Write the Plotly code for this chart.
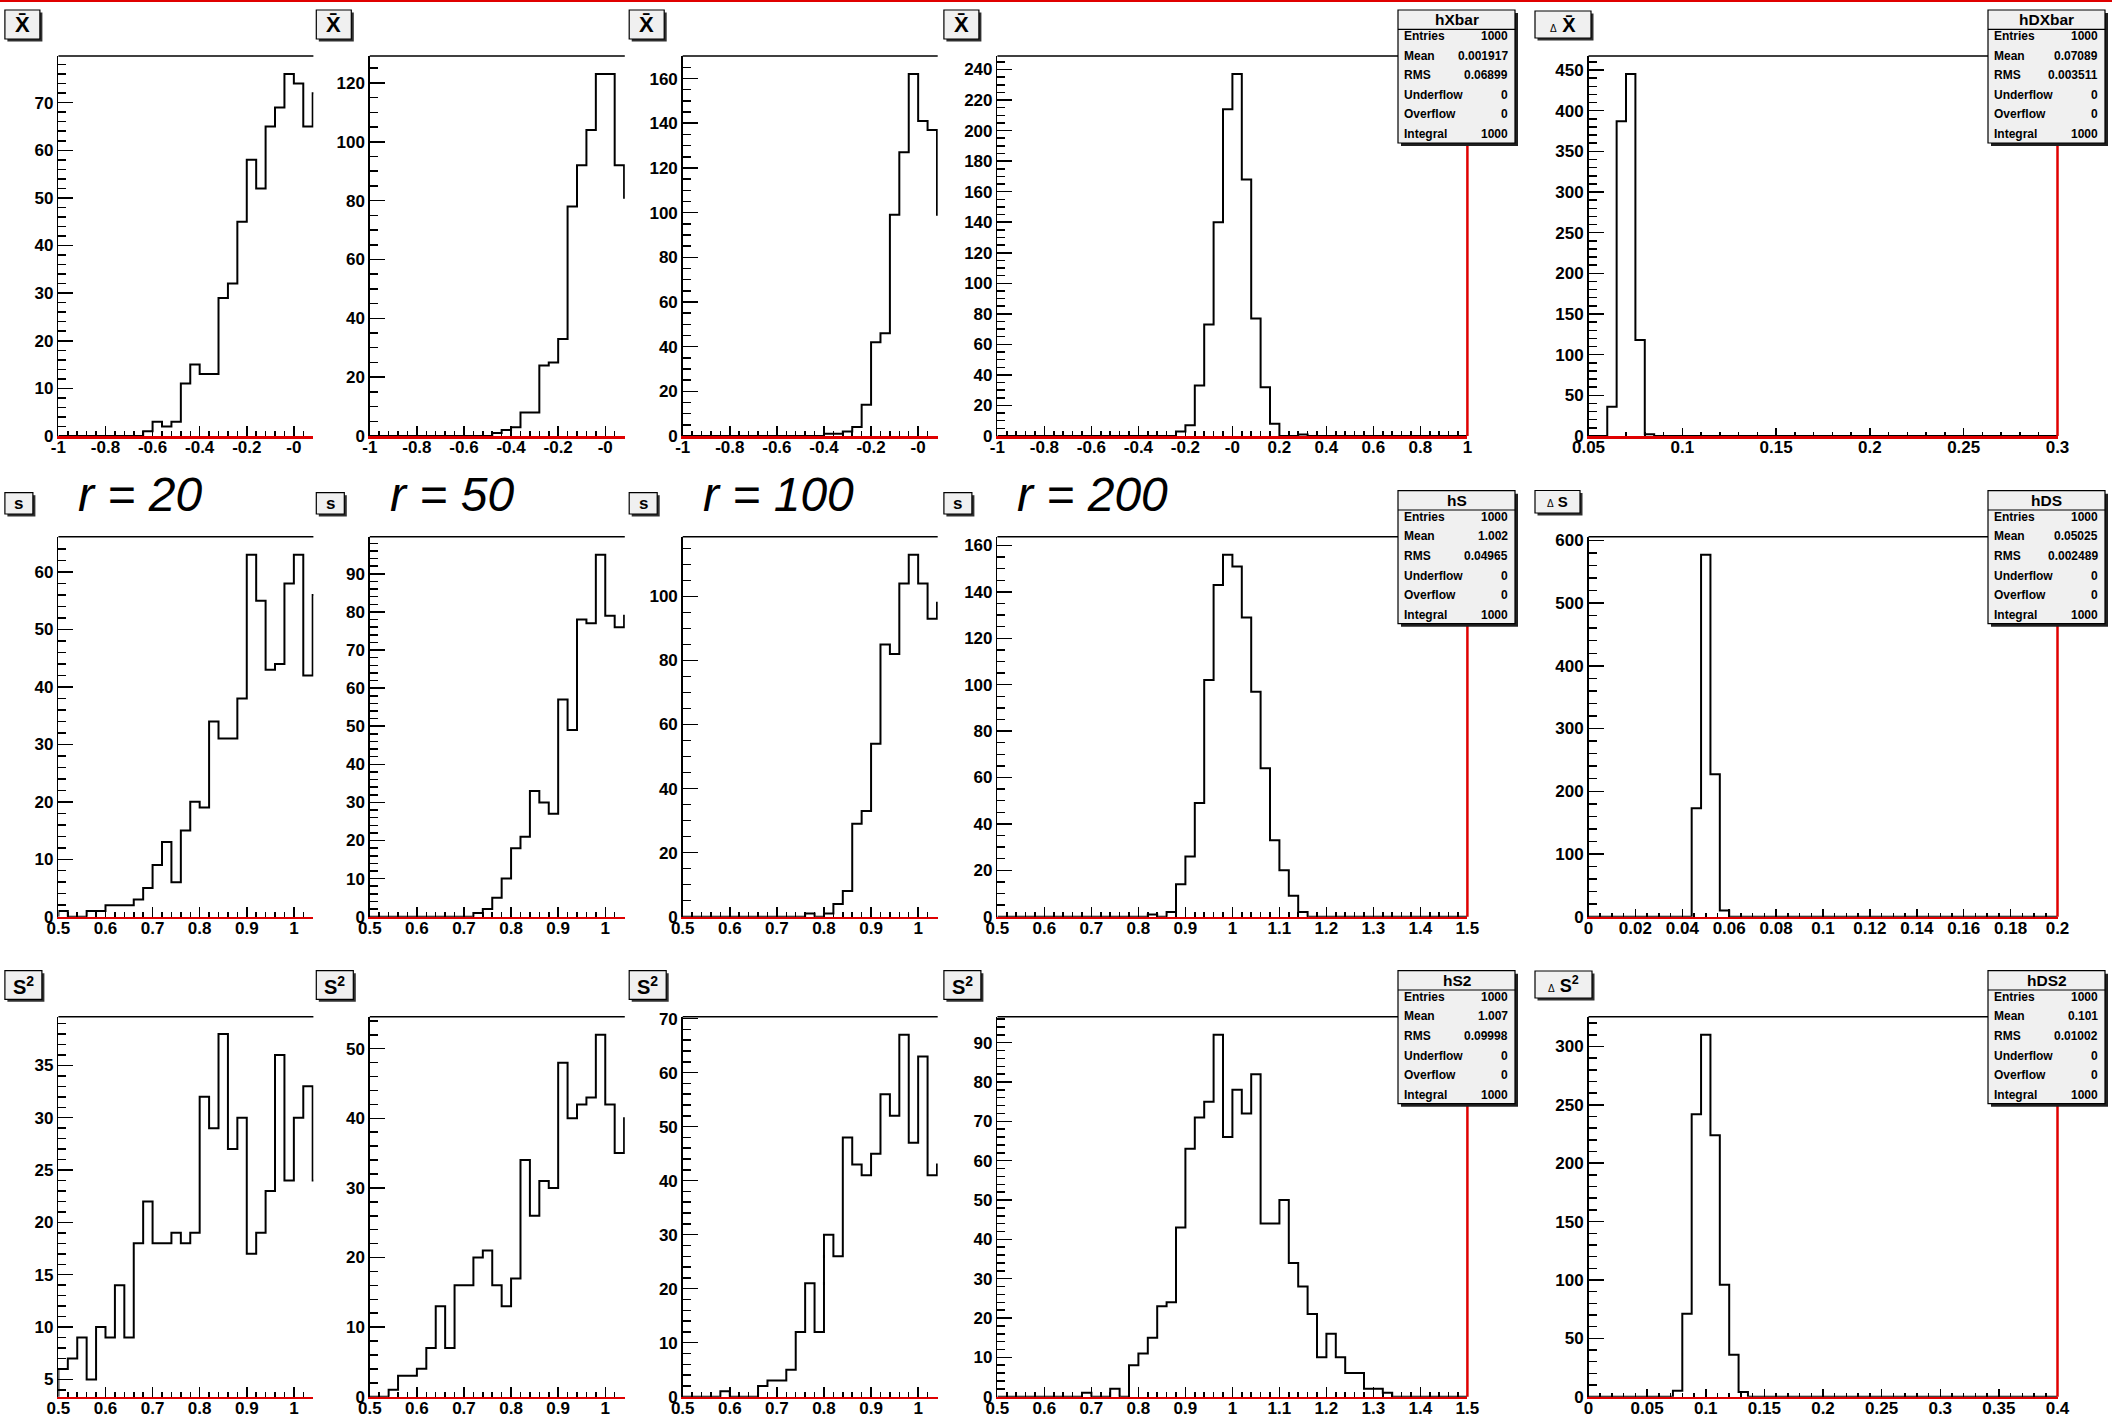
import numpy as np
import plotly.graph_objects as go

W, H = 2112, 1420

# ---------------- data (bin counts) ----------------
# row 1 : sample mean X-bar, 50 bins on [-1, 1]
XBAR_R20 = [0]*9 + [1, 3, 2, 3, 11, 15, 13, 13, 29, 32, 45, 58, 52, 65, 69, 76, 74, 65, 72]
XBAR_R50 = [0]*13 + [1, 2, 3, 8, 8, 24, 25, 33, 78, 92, 104, 123, 123, 92, 81]
XBAR_R100 = [0]*15 + [1, 1, 2, 4, 14, 42, 46, 99, 127, 162, 141, 137, 99]
XBAR_R200 = [0]*19 + [3, 7, 33, 73, 140, 214, 237, 168, 77, 32, 8, 0, 0, 1] + [0]*17
DXBAR = [0, 0, 36, 387, 445, 118, 2] + [0]*43          # 50 bins on [0.05, 0.3]

# row 2 : sample standard deviation s, 50 bins on [0.5, 1.5]
S_R20 = [1, 0, 0, 1, 1, 2, 2, 2, 3, 5, 9, 13, 6, 15, 20, 19, 34, 31, 31, 38,
         63, 55, 43, 44, 58, 63, 42, 56]
S_R50 = [0]*11 + [1, 2, 5, 10, 18, 21, 33, 30, 27, 57, 49, 78, 77, 95, 79, 76, 79]
S_R100 = [0]*13 + [1, 0, 1, 4, 8, 29, 33, 54, 85, 82, 104, 113, 104, 93, 98]
S_R200 = [0]*16 + [1, 0, 2, 14, 26, 49, 102, 143, 156, 151, 129, 97, 64, 33, 20, 9, 2] + [0]*17
DS = [0]*11 + [173, 577, 227, 10] + [0]*35                 # 50 bins on [0, 0.2]

# row 3 : sample variance s^2, 50 bins on [0.5, 1.5]
S2_R20 = [6, 7, 9, 5, 10, 9, 14, 9, 18, 22, 18, 18, 19, 18, 19, 32, 29, 38, 27, 30,
          17, 19, 23, 36, 24, 30, 33, 24]
S2_R50 = [0, 0, 1, 3, 3, 4, 7, 13, 7, 16, 16, 20, 21, 16, 13, 17, 34, 26, 31, 30,
          48, 40, 42, 43, 52, 42, 35, 40]
S2_R100 = [0, 0, 0, 0, 1, 0, 0, 0, 2, 3, 3, 5, 12, 21, 12, 30, 26, 48, 43, 41,
           45, 56, 52, 67, 47, 63, 41, 43]
S2_R200 = [0]*9 + [1, 0, 0, 2, 0, 8, 11, 15, 23, 24, 43, 63, 71, 75, 92, 66, 78, 72, 82,
                   44, 44, 50, 34, 28, 21, 10, 16, 10, 6, 6, 2, 2, 1] + [0]*8
DS2 = [0]*9 + [5, 71, 242, 310, 224, 96, 36, 4] + [0]*33    # 50 bins on [0, 0.4]

# histogram binning (low edge, bin width)
BIN_XBAR, BIN_S, BIN_DXBAR, BIN_DS, BIN_DS2 = (-1.0, 0.04), (0.5, 0.02), (0.05, 0.005), (0.0, 0.004), (0.0, 0.008)

R_LABELS = ["r = 20", "r = 50", "r = 100", "r = 200"]
ROW_TITLES = ["X\u0304", "s", "S<sup>2</sup>"]
DELTA = '<span style="font-size:10px;font-weight:normal">\u0394</span> '
DELTA_TITLES = [DELTA + "X\u0304", DELTA + "S", DELTA + "S<sup>2</sup>"]
STAT_NAMES = ["hXbar", "hDXbar", "hS", "hDS", "hS2", "hDS2"]
STAT_MEAN = ["0.001917", "0.07089", "1.002", "0.05025", "1.007", "0.101"]
STAT_RMS = ["0.06899", "0.003511", "0.04965", "0.002489", "0.09998", "0.01002"]
STAT_ENTRIES = ["1000"] * 6
STAT_ROWS = ["Entries", "Mean", "RMS", "Underflow", "Overflow", "Integral"]

# ---------------- geometry (pixels) ----------------
COL_L = [58.4, 369.8, 682.7, 997.4, 1588.5]
COL_R = [313.4, 624.8, 937.7, 1467.4, 2057.5]
ROW_T = [56.0, 536.7, 1016.7]
ROW_B = [436.0, 916.7, 1396.7]


def fx(p):
    return p / W


def fy(p):
    return 1 - p / H


def fmt(v):
    s = ("%.3f" % v).rstrip("0").rstrip(".")
    if s == "-0":
        s = "0"
    return s


# per panel: counts, binning, x range, x major step, x minor step, y major, y minor
PANELS = [
    [XBAR_R20, BIN_XBAR, (-1, 0.083), 0.2, 0.04, 10, 2],
    [XBAR_R50, BIN_XBAR, (-1, 0.083), 0.2, 0.04, 20, 5],
    [XBAR_R100, BIN_XBAR, (-1, 0.083), 0.2, 0.04, 20, 5],
    [XBAR_R200, BIN_XBAR, (-1, 1), 0.2, 0.04, 20, 5],
    [DXBAR, BIN_DXBAR, (0.05, 0.3), 0.05, 0.01, 50, 10],
    [S_R20, BIN_S, (0.5, 1.0415), 0.1, 0.02, 10, 2],
    [S_R50, BIN_S, (0.5, 1.0415), 0.1, 0.02, 10, 2],
    [S_R100, BIN_S, (0.5, 1.0415), 0.1, 0.02, 20, 5],
    [S_R200, BIN_S, (0.5, 1.5), 0.1, 0.02, 20, 5],
    [DS, BIN_DS, (0, 0.2), 0.02, 0.005, 100, 20],
    [S2_R20, BIN_S, (0.5, 1.0415), 0.1, 0.02, 5, 1],
    [S2_R50, BIN_S, (0.5, 1.0415), 0.1, 0.02, 10, 2],
    [S2_R100, BIN_S, (0.5, 1.0415), 0.1, 0.02, 10, 2],
    [S2_R200, BIN_S, (0.5, 1.5), 0.1, 0.02, 10, 2],
    [DS2, BIN_DS2, (0, 0.4), 0.05, 0.01, 50, 10],
]

TICKFONT = dict(family="Liberation Sans, Arial, sans-serif", size=17, color="black", weight="bold")

fig = go.Figure()
layout = dict(width=W, height=H, autosize=False,
              margin=dict(l=0, r=0, t=0, b=0, pad=0, autoexpand=False),
              paper_bgcolor="white", plot_bgcolor="white", showlegend=False)
shapes, annotations = [], []

for idx, (counts, (lo, bw), xr, xmaj, xmin_, ymaj, ymin_) in enumerate(PANELS):
    i = idx + 1
    r, c = divmod(idx, 5)
    sfx = "" if i == 1 else str(i)
    xname, yname = "x" + sfx, "y" + sfx
    cnt = np.asarray(counts, float)
    n = len(cnt)
    edges = lo + bw * np.arange(n + 1)
    hmin, hmax = cnt.min(), cnt.max()
    marg = 0.05 * (hmax - hmin)
    y0 = max(0.0, hmin - marg) if hmin > 0 else 0.0
    y1 = hmax + marg
    xs = np.concatenate([[edges[0]], edges[:-1], [edges[-1], edges[-1]]])
    ys = np.concatenate([[0], cnt, [cnt[-1], 0]])
    fig.add_trace(go.Scatter(x=xs, y=ys, mode="lines", line=dict(color="black", width=2, shape="hv"),
                             xaxis=xname, yaxis=yname, hoverinfo="skip"))

    ntick = int(round((xr[1] - xr[0]) / xmaj)) + 1
    tv = [round(xr[0] + k * xmaj, 6) for k in range(ntick) if xr[0] + k * xmaj <= xr[1] + 1e-9]
    tt = [fmt(v) for v in tv]
    if r == 0 and c < 4:
        tt = ["-0" if abs(v) < 1e-9 else t for v, t in zip(tv, tt)]
    layout["xaxis" + sfx] = dict(
        domain=[fx(COL_L[c]), fx(COL_R[c])], range=list(xr), anchor=yname, automargin=False,
        showline=True, linecolor="#e00000", linewidth=2.5, mirror=False,
        ticks="inside", ticklen=10 if c < 4 else 8, tickwidth=1.5, tickcolor="black",
        tickmode="array", tickvals=tv, ticktext=tt, tickfont=TICKFONT, ticklabelstandoff=-6,
        minor=dict(ticks="inside", ticklen=5 if c < 4 else 4, tickwidth=1.5, tickcolor="black",
                   dtick=xmin_, tick0=xr[0]),
        showgrid=False, zeroline=False, fixedrange=True)
    layout["yaxis" + sfx] = dict(
        domain=[fy(ROW_B[r]), fy(ROW_T[r])], range=[y0, y1], anchor=xname, automargin=False,
        showline=True, linecolor="black", linewidth=1.5,
        ticks="inside", ticklen=15, tickwidth=1.5, tickcolor="black",
        tickmode="linear", tick0=0, dtick=ymaj, tickfont=TICKFONT,
        minor=dict(ticks="inside", ticklen=8, tickwidth=1.5, tickcolor="black", dtick=ymin_, tick0=0),
        showgrid=False, zeroline=False, fixedrange=True)

    # top frame line (black) and right frame line (red) for fully visible pads
    shapes.append(dict(type="line", xref=xname + " domain", yref=yname + " domain", x0=0, x1=1, y0=1, y1=1,
                       line=dict(color="black", width=1.5), layer="above"))
    if c >= 3:
        shapes.append(dict(type="line", xref=xname + " domain", yref=yname + " domain", x0=1, x1=1, y0=0, y1=1,
                           line=dict(color="#e00000", width=2.5), layer="above"))

    # pad title box
    L = COL_L[c]
    if c < 4:
        bx0 = L - 53.5
        bw_ = [35, 28, 37][r]
        by0, by1 = [(10, 39), (492.7, 514), (970.7, 999.3)][r]
        text = ROW_TITLES[r]
        tsize = [22, 17, 20][r]
    else:
        bx0 = 1535
        bw_ = [56, 45, 57][r]
        by0, by1 = [(11, 38), (490.5, 513), (971, 998)][r]
        text = DELTA_TITLES[r]
        tsize = [20, 15, 18][r]
    bx1 = bx0 + bw_
    shapes.append(dict(type="rect", xref="paper", yref="paper", x0=fx(bx0 + 2.5), x1=fx(bx1 + 2.5),
                       y0=fy(by1 + 2.5), y1=fy(by0 + 2.5), fillcolor="#303030", line=dict(width=0), layer="above"))
    shapes.append(dict(type="rect", xref="paper", yref="paper", x0=fx(bx0), x1=fx(bx1),
                       y0=fy(by1), y1=fy(by0), fillcolor="#f0f0f0", line=dict(color="black", width=1.2), layer="above"))
    annotations.append(dict(xref="paper", yref="paper", x=fx((bx0 + bx1) / 2), y=fy((by0 + by1) / 2),
                            text=text, showarrow=False, xanchor="center", yanchor="middle",
                            font=dict(family="Liberation Sans, DejaVu Sans, sans-serif", size=tsize,
                                      color="black", weight="bold")))

    # statistics boxes for the r = 200 column and the error column
    if c >= 3:
        k = r * 2 + (c - 3)
        sx0 = 1398 if c == 3 else 1988
        sx1 = sx0 + 117
        sy0 = [10, 490.7, 970.7][r]
        sy1 = sy0 + 133
        shapes.append(dict(type="rect", xref="paper", yref="paper", x0=fx(sx0 + 3), x1=fx(sx1 + 3),
                           y0=fy(sy1 + 3), y1=fy(sy0 + 3), fillcolor="#202020", line=dict(width=0), layer="above"))
        shapes.append(dict(type="rect", xref="paper", yref="paper", x0=fx(sx0), x1=fx(sx1),
                           y0=fy(sy1), y1=fy(sy0), fillcolor="#f0f0f0", line=dict(color="black", width=1.2), layer="above"))
        shapes.append(dict(type="line", xref="paper", yref="paper", x0=fx(sx0), x1=fx(sx1),
                           y0=fy(sy0 + 19.3), y1=fy(sy0 + 19.3), line=dict(color="black", width=1.2), layer="above"))
        annotations.append(dict(xref="paper", yref="paper", x=fx((sx0 + sx1) / 2), y=fy(sy0 + 9.8),
                                text=STAT_NAMES[k], showarrow=False, xanchor="center", yanchor="middle",
                                font=dict(family="Liberation Sans, sans-serif", size=15.5, color="black", weight="bold")))
        vals = [STAT_ENTRIES[k], STAT_MEAN[k], STAT_RMS[k], "0", "0", STAT_ENTRIES[k]]
        for j, (lab, val) in enumerate(zip(STAT_ROWS, vals)):
            yy = fy(sy0 + 26 + j * 19.6)
            annotations.append(dict(xref="paper", yref="paper", x=fx(sx0 + 3.5), y=yy, text=lab, showarrow=False,
                                    xanchor="left", yanchor="middle",
                                    font=dict(family="Liberation Sans, sans-serif", size=12, color="black", weight="bold")))
            annotations.append(dict(xref="paper", yref="paper", x=fx(sx1 - 5.5), y=yy, text=val, showarrow=False,
                                    xanchor="right", yanchor="middle",
                                    font=dict(family="Liberation Sans, sans-serif", size=12, color="black", weight="bold")))

# "r = ..." labels between the first and second rows
R_X = [77.6, 389.8, 703.0, 1016.5]
for lab, xx in zip(R_LABELS, R_X):
    annotations.append(dict(xref="paper", yref="paper", x=fx(xx - 2), y=fy(494), text=lab, showarrow=False,
                            xanchor="left", yanchor="middle",
                            font=dict(family="Liberation Sans, Arial, sans-serif", size=48, color="black", style="italic")))

# red line along the top edge of the canvas
shapes.append(dict(type="line", xref="paper", yref="paper", x0=0, x1=1, y0=fy(1), y1=fy(1),
                   line=dict(color="#e00000", width=2), layer="above"))

layout["shapes"] = shapes
layout["annotations"] = annotations
fig.update_layout(**layout)
fig.write_html("out.html", config={"responsive": False, "displayModeBar": False, "staticPlot": True},
               post_script="document.body.style.margin='0px';document.body.style.padding='0px';"
                           "document.body.style.overflow='hidden';")
